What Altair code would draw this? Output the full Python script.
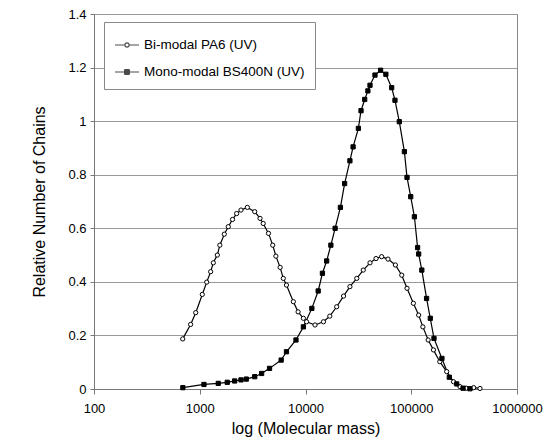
import altair as alt
import pandas as pd

# ---- data ----
bi_mass = [690, 820, 916, 1057, 1164, 1268, 1343, 1466, 1549, 1706, 1862, 2042, 2234, 2455,
           2818, 3311, 3715, 3981, 4467, 4898, 5248, 5754, 6166, 6607, 7674, 8511, 9550,
           10233, 12303, 14791, 16982, 19724, 22909, 26303, 30549, 35156, 40738, 46452,
           52481, 60256, 70795, 81283, 91201, 104713, 117490, 128825, 144544, 162181,
           186209, 216272, 251189, 288403, 331131, 389045, 446684]
bi_value = [0.187, 0.241, 0.285, 0.353, 0.399, 0.438, 0.471, 0.50, 0.537, 0.578, 0.606, 0.633,
            0.655, 0.668, 0.678, 0.662, 0.637, 0.618, 0.581, 0.537, 0.496, 0.454, 0.413, 0.388,
            0.326, 0.288, 0.264, 0.251, 0.239, 0.251, 0.272, 0.307, 0.347, 0.382, 0.413, 0.444,
            0.471, 0.487, 0.494, 0.485, 0.463, 0.425, 0.376, 0.32, 0.276, 0.232, 0.183, 0.146,
            0.102, 0.065, 0.027, 0.009, 0.003, 0.005, 0.002]

mono_mass = [692, 1096, 1496, 1820, 2138, 2455, 2754, 3311, 3846, 4571, 5888, 6607, 8128,
             9550, 11482, 13183, 14454, 15849, 17378, 19055, 21380, 23442, 26303, 28184,
             31623, 33497, 36308, 38905, 40738, 45394, 51286, 57544, 65313, 70146, 77090,
             86099, 91201, 98855, 107152, 114815, 117490, 125893, 139637, 151356, 164059,
             194984, 229087, 269153, 309030, 358922]
mono_value = [0.005, 0.017, 0.021, 0.025, 0.03, 0.034, 0.037, 0.046, 0.058, 0.077, 0.108, 0.139,
              0.183, 0.232, 0.301, 0.366, 0.432, 0.478, 0.537, 0.60, 0.678, 0.767, 0.852, 0.904,
              0.973, 1.039, 1.081, 1.113, 1.134, 1.172, 1.19, 1.175, 1.125, 1.078, 0.998, 0.886,
              0.79, 0.718, 0.643, 0.528, 0.504, 0.444, 0.338, 0.264, 0.189, 0.114, 0.044, 0.019,
              0.003, 0.001]

series_names = ["Bi-modal PA6 (UV)", "Mono-modal BS400N (UV)"]
x_ticks = [100, 1000, 10000, 100000, 1000000]
y_ticks = [0, 0.2, 0.4, 0.6, 0.8, 1.0, 1.2, 1.4]

df = pd.concat([
    pd.DataFrame({"mass": bi_mass, "value": bi_value, "series": series_names[0]}),
    pd.DataFrame({"mass": mono_mass, "value": mono_value, "series": series_names[1]}),
], ignore_index=True)

FONT = "Liberation Sans"

x_enc = alt.X("mass:Q",
              scale=alt.Scale(type="log", domain=[100, 1000000]),
              axis=alt.Axis(values=x_ticks, format="d", title="log (Molecular mass)",
                            grid=False, tickSize=5, labelPadding=8, titlePadding=5,
                            labelFlush=False, labelOverlap=False,
                            labelFontSize=13, titleFontSize=16, titleFontWeight="normal",
                            labelFont=FONT, titleFont=FONT, labelColor="black",
                            titleColor="black", domainColor="#777", tickColor="#777"))
y_enc = alt.Y("value:Q",
              scale=alt.Scale(domain=[0, 1.4]),
              axis=alt.Axis(values=y_ticks, format=".1~f", title="Relative Number of Chains",
                            grid=True, gridColor="#999", gridWidth=1, tickSize=4,
                            labelPadding=4, titlePadding=20, labelFontSize=13,
                            labelFlush=False,
                            titleFontSize=16, titleFontWeight="normal", labelFont=FONT,
                            titleFont=FONT, labelColor="black", titleColor="black",
                            domainColor="#777", tickColor="#777"))

base = alt.Chart(df)

lines = base.mark_line(color="black", strokeWidth=1.2).encode(
    x=x_enc, y=y_enc, detail="series:N")

points = base.mark_point(stroke="black", strokeWidth=1, size=18, opacity=1).encode(
    x=x_enc, y=y_enc,
    shape=alt.Shape("series:N", scale=alt.Scale(domain=series_names, range=["circle", "square"]),
                    legend=None),
    fill=alt.Fill("series:N", scale=alt.Scale(domain=series_names, range=["white", "black"]),
                  legend=None),
)

path_circle = ("M-1,0H-0.18M0.18,0H1M-0.18,0A0.18,0.18 0 1,0 0.18,0"
               "A0.18,0.18 0 1,0 -0.18,0")
path_square = ("M-1,0H1M-0.2,-0.2H0.2M-0.2,-0.1H0.2M-0.2,0.1H0.2M-0.2,0.2H0.2"
               "M-0.2,-0.2V0.2M0.2,-0.2V0.2M0,-0.2V0.2")

legend_layer = base.transform_filter("datum.mass < 0").mark_point(
    color="black", filled=False, strokeWidth=1.2).encode(
    x=x_enc, y=y_enc,
    shape=alt.Shape("series:N",
                    scale=alt.Scale(domain=series_names, range=[path_circle, path_square]),
                    legend=alt.Legend(title=None, orient="none", legendX=10, legendY=8,
                                      symbolSize=576, symbolStrokeWidth=1.2,
                                      symbolStrokeColor="black",
                                      labelFont=FONT, labelFontSize=13.5, labelColor="black",
                                      labelOffset=4, rowPadding=7, padding=10,
                                      strokeColor="#888", fillColor="white",
                                      labelLimit=400)),
)

chart = alt.layer(lines, points, legend_layer).resolve_scale(
    shape="independent"
).properties(
    width=423, height=375,
    autosize=alt.AutoSizeParams(type="none"),
    padding={"left": 86, "top": 6, "right": 27, "bottom": 50},
    background="white",
).configure_view(stroke="#888", strokeWidth=1)

chart.save("out.html", embed_options={"renderer": "svg", "actions": False})
